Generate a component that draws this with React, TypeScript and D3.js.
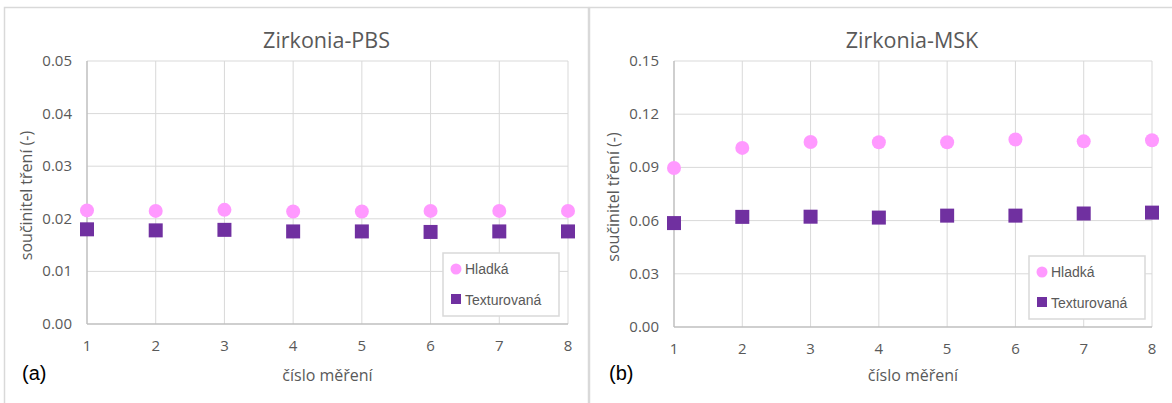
import React, { useRef, useEffect } from 'react';
import * as d3 from 'd3';

const measurements = [1, 2, 3, 4, 5, 6, 7, 8];
const seriesNames = ['Hladká', 'Texturovaná'];

const pbsHladka = [0.0216, 0.0215, 0.0217, 0.0214, 0.0214, 0.0215, 0.0215, 0.0215];
const pbsTexturovana = [0.018, 0.0178, 0.0179, 0.0176, 0.0176, 0.0175, 0.0176, 0.0176];
const pbsTicks = [0, 0.01, 0.02, 0.03, 0.04, 0.05];

const mskHladka = [0.0897, 0.101, 0.1043, 0.1042, 0.1042, 0.1057, 0.1047, 0.1053];
const mskTexturovana = [0.0586, 0.0621, 0.0622, 0.0617, 0.0628, 0.0628, 0.064, 0.0645];
const mskTicks = [0, 0.03, 0.06, 0.09, 0.12, 0.15];

const PINK = '#ff99ff';
const PURPLE = '#7030a0';
const GRID = '#d9d9d9';
const TEXT = '#595959';
const FONT = '"Open Sans", sans-serif';
const ARIAL = '"Liberation Sans", Arial, sans-serif';

function drawPanel(svg, cfg) {
  const { ox, title, label, smooth, textured, ticks, left, right, top, bottom, legend } = cfg;
  const g = svg.append('g').attr('transform', `translate(${ox},0)`);

  const x = d3.scaleLinear().domain([1, 8]).range([left, right]);
  const y = d3.scaleLinear().domain([ticks[0], ticks[ticks.length - 1]]).range([bottom, top]);

  // grid
  g.selectAll('.hgrid').data(ticks.slice(1)).enter().append('line')
    .attr('x1', left).attr('x2', right)
    .attr('y1', (d) => y(d)).attr('y2', (d) => y(d))
    .attr('stroke', GRID).attr('stroke-width', 1);
  g.selectAll('.vgrid').data(measurements.slice(1)).enter().append('line')
    .attr('x1', (d) => x(d)).attr('x2', (d) => x(d))
    .attr('y1', top).attr('y2', bottom)
    .attr('stroke', GRID).attr('stroke-width', 1);

  // axes lines
  g.append('line').attr('x1', left).attr('x2', right).attr('y1', bottom).attr('y2', bottom)
    .attr('stroke', '#bfbfbf').attr('stroke-width', 1.5);
  g.append('line').attr('x1', left).attr('x2', left).attr('y1', top).attr('y2', bottom)
    .attr('stroke', '#bfbfbf').attr('stroke-width', 1.5);

  // tick labels
  g.selectAll('.ylab').data(ticks).enter().append('text')
    .attr('x', left - 15).attr('y', (d) => y(d) + 5)
    .attr('text-anchor', 'end').attr('font-family', FONT).attr('font-size', 15)
    .attr('fill', TEXT).text((d) => d3.format('.2f')(d));
  g.selectAll('.xlab').data(measurements).enter().append('text')
    .attr('x', (d) => x(d)).attr('y', bottom + 27)
    .attr('text-anchor', 'middle').attr('font-family', FONT).attr('font-size', 15)
    .attr('fill', TEXT).text((d) => d);

  // title & axis titles
  g.append('text').attr('x', (left + right) / 2 - 1).attr('y', 48)
    .attr('text-anchor', 'middle').attr('font-family', FONT).attr('font-size', 21.5)
    .attr('fill', TEXT).text(title);
  g.append('text').attr('x', (left + right) / 2).attr('y', 381)
    .attr('text-anchor', 'middle').attr('font-family', FONT).attr('font-size', 16)
    .attr('fill', TEXT).text('číslo měření');
  g.append('text').attr('transform', `translate(${left - 55},${(top + bottom) / 2 + 3}) rotate(-90)`)
    .attr('text-anchor', 'middle').attr('font-family', FONT).attr('font-size', 16)
    .attr('fill', TEXT).text('součinitel tření (-)');
  g.append('text').attr('x', 22).attr('y', 380)
    .attr('font-family', ARIAL).attr('font-size', 20)
    .attr('fill', '#000').text(label);

  // markers
  g.selectAll('.sq').data(textured).enter().append('rect')
    .attr('x', (d, i) => x(measurements[i]) - 7).attr('y', (d) => y(d) - 7)
    .attr('width', 14).attr('height', 14).attr('fill', PURPLE);
  g.selectAll('.ci').data(smooth).enter().append('circle')
    .attr('cx', (d, i) => x(measurements[i])).attr('cy', (d) => y(d))
    .attr('r', 7).attr('fill', PINK);

  // legend
  const lg = g.append('g').attr('transform', `translate(${legend.x},${legend.y})`);
  lg.append('rect').attr('width', 116).attr('height', 63).attr('fill', '#fff')
    .attr('stroke', GRID).attr('stroke-width', 1.5);
  lg.append('circle').attr('cx', 13).attr('cy', 16).attr('r', 5.5).attr('fill', PINK);
  lg.append('rect').attr('x', 8).attr('y', 41).attr('width', 10).attr('height', 10).attr('fill', PURPLE);
  lg.selectAll('.lt').data(seriesNames).enter().append('text')
    .attr('x', 22).attr('y', (d, i) => 21 + i * 31)
    .attr('font-family', ARIAL).attr('font-size', 14)
    .attr('fill', TEXT).text((d) => d);
}

function App() {
  const ref = useRef(null);

  useEffect(() => {
    const svg = d3.select(ref.current);
    svg.selectAll('*').remove();

    // panel frames
    svg.append('rect').attr('x', 4.5).attr('y', 7.5).attr('width', 584).attr('height', 420)
      .attr('fill', '#fff').attr('stroke', GRID).attr('stroke-width', 1.5);
    svg.append('rect').attr('x', 589.5).attr('y', 7.5).attr('width', 600).attr('height', 420)
      .attr('fill', '#fff').attr('stroke', GRID).attr('stroke-width', 1.5);

    drawPanel(svg, {
      ox: 0, title: 'Zirkonia-PBS', label: '(a)', smooth: pbsHladka, textured: pbsTexturovana,
      ticks: pbsTicks, left: 87, right: 568, top: 61, bottom: 324, legend: { x: 443, y: 253 },
    });
    drawPanel(svg, {
      ox: 587, title: 'Zirkonia-MSK', label: '(b)', smooth: mskHladka, textured: mskTexturovana,
      ticks: mskTicks, left: 87, right: 565, top: 61, bottom: 327, legend: { x: 442, y: 256 },
    });
  }, []);

  return (
    <svg ref={ref} width={1172} height={403}
      style={{ position: 'absolute', left: 0, top: 0, background: '#fff' }} />
  );
}

export default App;
